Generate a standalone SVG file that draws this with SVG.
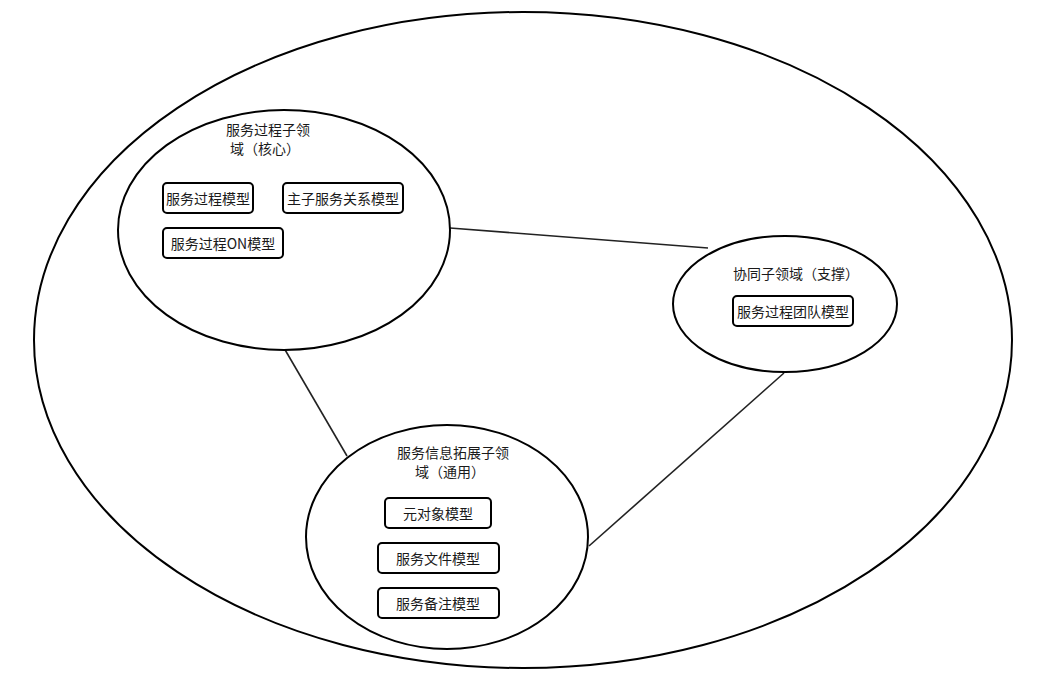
<svg xmlns="http://www.w3.org/2000/svg" width="1053" height="685" viewBox="0 0 1053 685">
  <style>
    .domain { fill: #ffffff; stroke: #000000; stroke-width: 2; }
    .sub { fill: #ffffff; stroke: #000000; stroke-width: 2; }
    .box { fill: #ffffff; stroke: #000000; stroke-width: 2; }
    .link { fill: none; stroke: #222222; stroke-width: 1.6; }
    text { font-family: "Noto Sans CJK SC", "Liberation Sans", sans-serif; font-size: 14px; fill: #1a1a1a; text-anchor: middle; dominant-baseline: central; }
  </style>
  <rect width="1053" height="685" fill="#ffffff"/>

  <!-- overall service domain -->
  <g id="service-domain">
    <ellipse class="domain" cx="523" cy="340" rx="489" ry="328"/>
  </g>

  <!-- relations between the sub-domains -->
  <g id="connectors">
    <line class="link" x1="450" y1="228" x2="708" y2="248"/>
    <line class="link" x1="284" y1="348" x2="347" y2="456"/>
    <line class="link" x1="784" y1="373" x2="589" y2="546"/>
  </g>

  <!-- core sub-domain -->
  <g id="core-subdomain">
    <ellipse class="sub" cx="284" cy="230" rx="166" ry="120"/>
    <text x="268" y="129">服务过程子领</text>
    <text x="265" y="148">域（核心）</text>
  </g>
  <g id="process-model">
    <rect class="box" x="163" y="183" width="90" height="30" rx="4"/>
    <text x="208" y="198">服务过程模型</text>
  </g>
  <g id="master-relation-model">
    <rect class="box" x="283" y="183" width="120" height="30" rx="4"/>
    <text x="343" y="198">主子服务关系模型</text>
  </g>
  <g id="process-on-model">
    <rect class="box" x="163" y="228" width="120" height="30" rx="4"/>
    <text x="223" y="243">服务过程ON模型</text>
  </g>

  <!-- supporting sub-domain -->
  <g id="support-subdomain">
    <ellipse class="sub" cx="785" cy="304" rx="112" ry="68"/>
    <text x="796" y="273">协同子领域（支撑）</text>
  </g>
  <g id="process-team-model">
    <rect class="box" x="733" y="296" width="120" height="30" rx="4"/>
    <text x="793" y="311">服务过程团队模型</text>
  </g>

  <!-- generic sub-domain -->
  <g id="generic-subdomain">
    <ellipse class="sub" cx="447" cy="537" rx="141" ry="112"/>
    <text x="453" y="452">服务信息拓展子领</text>
    <text x="450" y="471">域（通用）</text>
  </g>
  <g id="meta-object-model">
    <rect class="box" x="385" y="498" width="106" height="30" rx="4"/>
    <text x="438" y="513">元对象模型</text>
  </g>
  <g id="service-file-model">
    <rect class="box" x="378" y="543" width="121" height="30" rx="4"/>
    <text x="438" y="558">服务文件模型</text>
  </g>
  <g id="service-note-model">
    <rect class="box" x="378" y="588" width="121" height="30" rx="4"/>
    <text x="438" y="603">服务备注模型</text>
  </g>
</svg>
